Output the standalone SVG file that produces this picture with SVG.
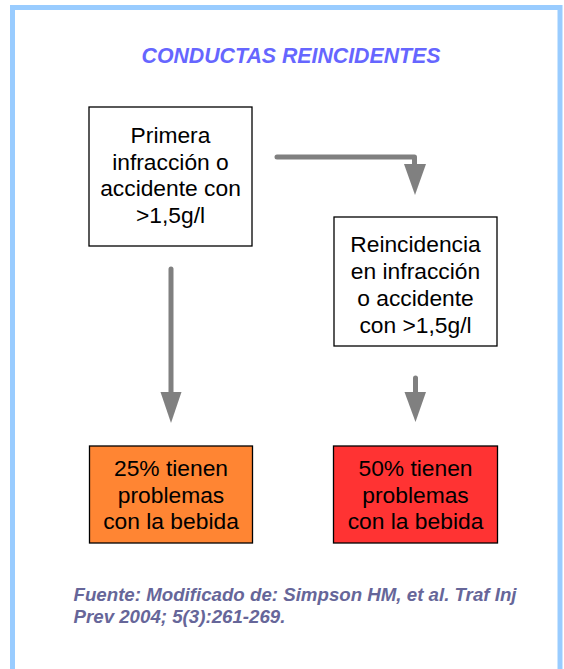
<svg xmlns="http://www.w3.org/2000/svg" width="564" height="669" viewBox="0 0 564 669">
<defs>
<style>
.frame{fill:#ffffff;stroke:#99CCFF;stroke-width:5}
.box{stroke:#000000;stroke-width:1.3}
.t{font-family:"Liberation Sans",Arial,sans-serif;font-size:22.8px;fill:#000000;text-anchor:middle}
.title{font-family:"Liberation Sans",Arial,sans-serif;font-size:21.3px;font-weight:bold;font-style:italic;fill:#6666FF;text-anchor:middle}
.src{font-family:"Liberation Sans",Arial,sans-serif;font-size:18.7px;font-weight:bold;font-style:italic;fill:#666699}
.line{fill:none;stroke:#808080;stroke-width:5;stroke-linecap:round;stroke-linejoin:round}
.head{fill:#808080}
</style>
</defs>
<rect class="frame" x="12.5" y="7.5" width="547.5" height="700"/>
<text class="title" x="291" y="63">CONDUCTAS REINCIDENTES</text>
<g id="n1">
<rect class="box" x="89" y="107" width="163" height="139" fill="#ffffff"/>
<text class="t" x="170.5" y="143">Primera</text>
<text class="t" x="170.5" y="169.5">infracción o</text>
<text class="t" x="170.5" y="196">accidente con</text>
<text class="t" x="170.5" y="222.5">&gt;1,5g/l</text>
</g>
<g id="n2">
<rect class="box" x="334" y="217" width="163" height="129" fill="#ffffff"/>
<text class="t" x="415.5" y="252">Reincidencia</text>
<text class="t" x="415.5" y="279">en infracción</text>
<text class="t" x="415.5" y="306">o accidente</text>
<text class="t" x="415.5" y="333">con &gt;1,5g/l</text>
</g>
<g id="n3">
<rect class="box" x="89.5" y="446" width="163" height="97" fill="#FF8533"/>
<text class="t" x="171" y="476">25% tienen</text>
<text class="t" x="171" y="502.5">problemas</text>
<text class="t" x="171" y="529">con la bebida</text>
</g>
<g id="n4">
<rect class="box" x="333.5" y="446" width="164" height="97" fill="#FF3333"/>
<text class="t" x="415.5" y="476">50% tienen</text>
<text class="t" x="415.5" y="502.5">problemas</text>
<text class="t" x="415.5" y="529">con la bebida</text>
</g>
<g id="connectors">
<path class="line" d="M277 157 H414.5 V166"/>
<polygon class="head" points="404,164 426,164 415,195"/>
<path class="line" d="M171 269 V394"/>
<polygon class="head" points="160.5,392 181.5,392 171,423"/>
<path class="line" d="M415.5 378 V394"/>
<polygon class="head" points="404.5,392 426,392 415.5,422"/>
</g>
<text class="src" x="73.5" y="600.5">Fuente: Modificado de: Simpson HM, et al. Traf Inj</text>
<text class="src" x="73.5" y="622.5">Prev 2004; 5(3):261-269.</text>
</svg>
